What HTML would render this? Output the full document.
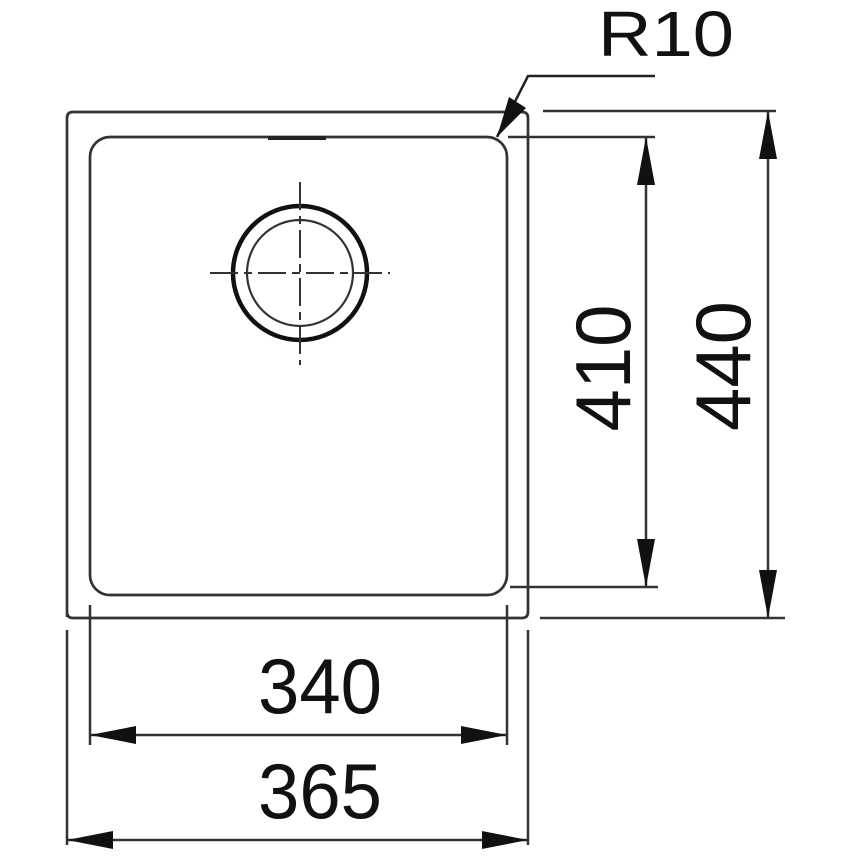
<!DOCTYPE html>
<html><head><meta charset="utf-8"><style>html,body{margin:0;padding:0;background:#fff}svg{display:block}</style></head>
<body>
<svg width="860" height="860" viewBox="0 0 860 860" xmlns="http://www.w3.org/2000/svg" font-family="Liberation Sans, sans-serif">
<g fill="none" stroke="#333" stroke-width="2.7">
<path d="M67,617 L67,118 Q67,112 73,112 L522,112 Q528,112 528,118 L528,612 Q528,618 522,618 L73,618 Q67,618 67,612"/>
<rect x="90" y="137" width="417" height="458" rx="20"/>
</g>
<line x1="268" y1="138" x2="326" y2="138" stroke="#222" stroke-width="4"/>
<circle cx="300" cy="273" r="67" fill="none" stroke="#111" stroke-width="4.5"/>
<circle cx="300" cy="273" r="53" fill="none" stroke="#333" stroke-width="2.2"/>
<g stroke="#333" stroke-width="2" stroke-dasharray="28,6,8,6">
<line x1="210" y1="273" x2="390" y2="273"/>
<line x1="300" y1="182" x2="300" y2="365"/>
</g>
<polyline points="655,76 528,76 497,137" fill="none" stroke="#222" stroke-width="2.5"/>
<polygon points="497,137 509,97 526,108" fill="#111"/>
<text x="666" y="56" font-size="64" text-anchor="middle" fill="#111" textLength="136" lengthAdjust="spacingAndGlyphs">R10</text>
<g stroke="#333" stroke-width="2.5">
<line x1="543" y1="111" x2="776" y2="111"/>
<line x1="508" y1="137" x2="655" y2="137"/>
<line x1="510" y1="587" x2="658" y2="587"/>
<line x1="540" y1="618" x2="785" y2="618"/>
<line x1="646" y1="137" x2="646" y2="587"/>
<line x1="768" y1="111" x2="768" y2="618"/>
<line x1="90" y1="605" x2="90" y2="745"/>
<line x1="507" y1="605" x2="507" y2="745"/>
<line x1="67" y1="630" x2="67" y2="845"/>
<line x1="528" y1="630" x2="528" y2="845"/>
<line x1="90" y1="735" x2="507" y2="735"/>
<line x1="67" y1="840" x2="528" y2="840"/>
</g>
<g fill="#111">
<polygon points="646,137 637,185 655,185"/>
<polygon points="646,587 637,539 655,539"/>
<polygon points="768,111 759,159 777,159"/>
<polygon points="768,618 759,570 777,570"/>
<polygon points="90,735 136,726 136,744"/>
<polygon points="507,735 461,726 461,744"/>
<polygon points="67,840 113,831 113,849"/>
<polygon points="528,840 482,831 482,849"/>
</g>
<g font-size="78" fill="#111" text-anchor="middle">
<text x="320" y="713" textLength="124" lengthAdjust="spacingAndGlyphs">340</text>
<text x="320" y="818" textLength="124" lengthAdjust="spacingAndGlyphs">365</text>
<text transform="translate(630,368) rotate(-90)" textLength="127" lengthAdjust="spacingAndGlyphs">410</text>
<text transform="translate(750,366) rotate(-90)" textLength="130" lengthAdjust="spacingAndGlyphs">440</text>
</g>
</svg>
</body></html>
